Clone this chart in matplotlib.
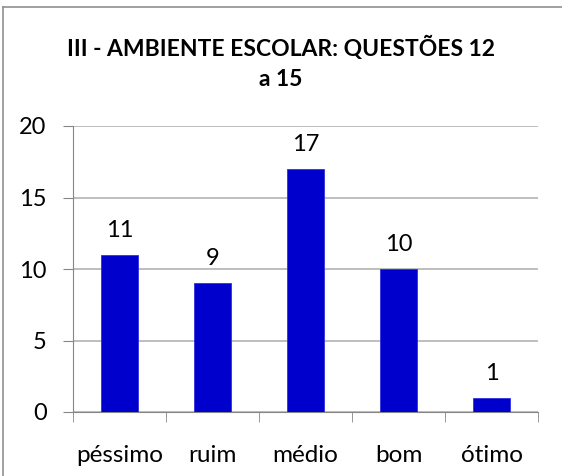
import matplotlib.pyplot as plt
from matplotlib.lines import Line2D

categories = ["péssimo", "ruim", "médio", "bom", "ótimo"]
values = [11, 9, 17, 10, 1]
title = "III - AMBIENTE ESCOLAR: QUESTÕES 12\na 15"

plt.rcParams['font.family'] = ['Lato', 'DejaVu Sans']

fig = plt.figure(figsize=(5.62, 4.76), dpi=100)
ax = fig.add_axes([73 / 562, 1 - 412 / 476, (538 - 73) / 562, (412 - 126) / 476])

x = range(len(categories))
bars = ax.bar(x, values, width=0.4, color="#0000cc", edgecolor="#3030e0", linewidth=0.6, zorder=3)
for b, v in zip(bars, values):
    ax.annotate(str(v), (b.get_x() + b.get_width() / 2, v), xytext=(0, 10),
                textcoords="offset points", ha="center", va="bottom", fontsize=17)

ax.set_xlim(-0.5, len(categories) - 0.5)
ax.set_ylim(0, 20)
ax.set_yticks([0, 5, 10, 15, 20])
ax.yaxis.grid(True, color="#b3b3b3", linewidth=1.2, zorder=0)
ax.set_xticks(x)
ax.set_xticklabels(categories)
ax.set_xticks([i - 0.5 for i in range(len(categories) + 1)], minor=True)
ax.tick_params(axis="x", which="major", length=0, labelsize=17.5, pad=24)
ax.tick_params(axis="x", which="minor", length=7, color="#868686", direction="out")
ax.tick_params(axis="y", length=7, color="#868686", labelsize=17, pad=12)
for s in ["top", "right"]:
    ax.spines[s].set_visible(False)
for s in ["left", "bottom"]:
    ax.spines[s].set_color("#868686")

fig.text(0.5, 1 - 63 / 476, title, ha="center", va="center", fontsize=16.5,
         fontweight="bold", linespacing=1.5)

fig.add_artist(Line2D([3 / 562, 3 / 562], [0, 1 - 7 / 476], color="#909090", lw=1.2))
fig.add_artist(Line2D([3 / 562, 1], [1 - 7 / 476, 1 - 7 / 476], color="#909090", lw=1.2))

fig.savefig("out.png", dpi=100)
